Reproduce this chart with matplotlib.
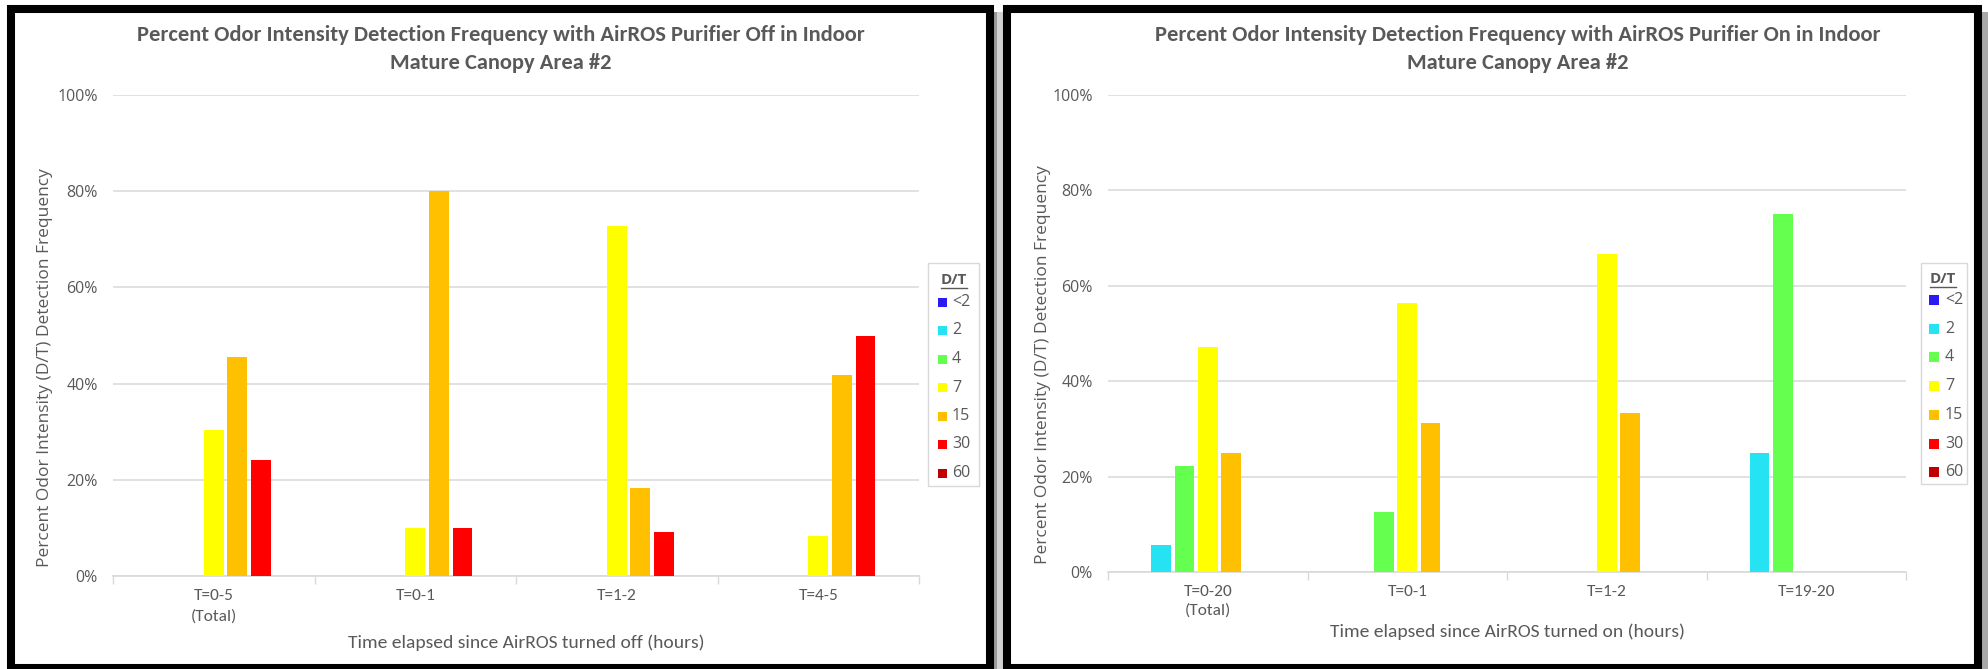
import numpy as np
import matplotlib
matplotlib.use("Agg")
import matplotlib.pyplot as plt
from matplotlib.patches import Rectangle
from matplotlib.lines import Line2D
from matplotlib.ticker import FuncFormatter

# ---- data (percent of readings per D/T level) ----
dt_levels = ['<2', '2', '4', '7', '15', '30', '60']
dt_colors = ['#2B1BF2', '#26E3F4', '#64FF4F', '#FFFF00', '#FFC000', '#FF0000', '#C00000']

cats_off = ['T=0-5\n(Total)', 'T=0-1', 'T=1-2', 'T=4-5']
off_lt2 = [0, 0, 0, 0]
off_2 = [0, 0, 0, 0]
off_4 = [0, 0, 0, 0]
off_7 = [30.3, 10.0, 72.7, 8.3]
off_15 = [45.5, 80.0, 18.2, 41.7]
off_30 = [24.2, 10.0, 9.1, 50.0]
off_60 = [0, 0, 0, 0]

cats_on = ['T=0-20\n(Total)', 'T=0-1', 'T=1-2', 'T=19-20']
on_lt2 = [0, 0, 0, 0]
on_2 = [5.6, 0, 0, 25.0]
on_4 = [22.2, 12.5, 0, 75.0]
on_7 = [47.2, 56.3, 66.7, 0]
on_15 = [25.0, 31.3, 33.3, 0]
on_30 = [0, 0, 0, 0]
on_60 = [0, 0, 0, 0]

title_off = 'Percent Odor Intensity Detection Frequency with AirROS Purifier Off in Indoor\nMature Canopy Area #2'
title_on = 'Percent Odor Intensity Detection Frequency with AirROS Purifier On in Indoor\nMature Canopy Area #2'
xlabel_off = 'Time elapsed since AirROS turned off (hours)'
xlabel_on = 'Time elapsed since AirROS turned on (hours)'
ylabel = 'Percent Odor Intensity (D/T) Detection Frequency'

W, H = 1988, 669
TXT = '#595959'
GRID = '#D9D9D9'
NARROW = ['Carlito', 'Liberation Sans Narrow', 'Lato', 'DejaVu Sans']
WIDE = ['Open Sans', 'DejaVu Sans']
plt.rcParams['font.family'] = NARROW


def fx(x):
    return x / W


def fy(y):
    return 1 - y / H


def bar_panel(fig, rect, cats, series, lab_spacing):
    ax = fig.add_axes(rect)
    x = np.arange(len(cats))
    slot, width = 0.117, 0.098
    for i, (vals, col) in enumerate(zip(series, dt_colors)):
        ax.bar(x + (i - 3) * slot, vals, width, color=col, edgecolor='none', zorder=3)
    ax.set_xlim(-0.5, len(cats) - 0.5)
    ax.set_ylim(0, 100)
    ax.set_yticks(range(0, 101, 20))
    ax.yaxis.set_major_formatter(FuncFormatter(lambda v, p: f'{v:.0f}%'))
    ax.set_xticks(x)
    ax.set_xticklabels(cats, fontsize=12.5, color=TXT, linespacing=lab_spacing)
    ax.set_xticks(np.arange(len(cats) + 1) - 0.5, minor=True)
    ax.tick_params(axis='x', which='major', length=0, pad=9)
    ax.tick_params(axis='x', which='minor', length=6, color=GRID, width=1)
    ax.tick_params(axis='y', length=0, pad=11, labelcolor=TXT, labelsize=11.5)
    for lbl in ax.get_yticklabels():
        lbl.set_family(WIDE)
    ax.grid(axis='y', color=GRID, lw=1.1, zorder=0)
    ax.set_axisbelow(True)
    for s in ['top', 'right', 'left']:
        ax.spines[s].set_visible(False)
    ax.spines['bottom'].set_color(GRID)
    ax.spines['bottom'].set_linewidth(1.2)
    return ax


def draw_legend(fig, box, title_xy, sq_x, sq_size, txt_x, row_y):
    x0, y0, x1, y1 = box
    fig.add_artist(Rectangle((fx(x0), fy(y1)), fx(x1 - x0), (y1 - y0) / H,
                             transform=fig.transFigure, fill=False, ec=GRID, lw=1))
    tx, ty = title_xy
    fig.text(fx(tx), fy(ty), 'D/T', ha='center', va='center', fontsize=11,
             fontweight='bold', color=TXT, family=WIDE)
    fig.add_artist(Line2D([fx(tx - 13), fx(tx + 13)], [fy(ty + 8), fy(ty + 8)],
                          transform=fig.transFigure, color=TXT, lw=1))
    for i, (lab, col) in enumerate(zip(dt_levels, dt_colors)):
        yc = row_y[0] + i * row_y[1]
        fig.add_artist(Rectangle((fx(sq_x), fy(yc + sq_size / 2)), fx(sq_size), sq_size / H,
                                 transform=fig.transFigure, color=col, lw=0))
        fig.text(fx(txt_x), fy(yc), lab, ha='left', va='center', fontsize=11.5,
                 color=TXT, family=WIDE)


fig = plt.figure(figsize=(W / 100, H / 100), dpi=100)

# panel frames and shadows
fig.add_artist(Rectangle((fx(993), 0), fx(4), fy(12), transform=fig.transFigure, color='#9A9A9A', lw=0))
fig.add_artist(Rectangle((fx(997), 0), fx(6), fy(12), transform=fig.transFigure, color='#D2D2D2', lw=0))
fig.add_artist(Rectangle((fx(1982), 0), fx(6), fy(12), transform=fig.transFigure, color='#A8A8A8', lw=0))
fig.add_artist(Rectangle((fx(11), fy(668)), fx(989.5 - 11), (668 - 9) / H,
                         transform=fig.transFigure, fill=False, ec='black', lw=5.8))
fig.add_artist(Rectangle((fx(1006.5), fy(668)), fx(1978 - 1006.5), (668 - 8.5) / H,
                         transform=fig.transFigure, fill=False, ec='black', lw=5.8))

# left chart: purifier off
series_off = [off_lt2, off_2, off_4, off_7, off_15, off_30, off_60]
bar_panel(fig, [fx(113), fy(576), fx(919 - 113), (576 - 95) / H], cats_off, series_off, 1.6)
fig.text(fx(501), fy(49), title_off, ha='center', va='center', fontsize=16.2,
         fontweight='bold', color=TXT, linespacing=1.45)
fig.text(fx(526), fy(643), xlabel_off, ha='center', va='center', fontsize=14, color=TXT)
fig.text(fx(45), fy(368), ylabel, ha='center', va='center', rotation=90, fontsize=12.5,
         color=TXT, family=WIDE)
draw_legend(fig, (928, 263, 979, 486), (953.5, 280), 938, 9, 952, (302, 28.5))

# right chart: purifier on
series_on = [on_lt2, on_2, on_4, on_7, on_15, on_30, on_60]
bar_panel(fig, [fx(1108), fy(572), fx(1906 - 1108), (572 - 95) / H], cats_on, series_on, 1.4)
fig.text(fx(1518), fy(49), title_on, ha='center', va='center', fontsize=16.2,
         fontweight='bold', color=TXT, linespacing=1.45)
fig.text(fx(1507), fy(632), xlabel_on, ha='center', va='center', fontsize=14, color=TXT)
fig.text(fx(1043), fy(365), ylabel, ha='center', va='center', rotation=90, fontsize=12.5,
         color=TXT, family=WIDE)
draw_legend(fig, (1921, 263, 1967, 484), (1943, 279), 1929, 10, 1945, (300, 28.7))

fig.savefig('out.png', dpi=100)
